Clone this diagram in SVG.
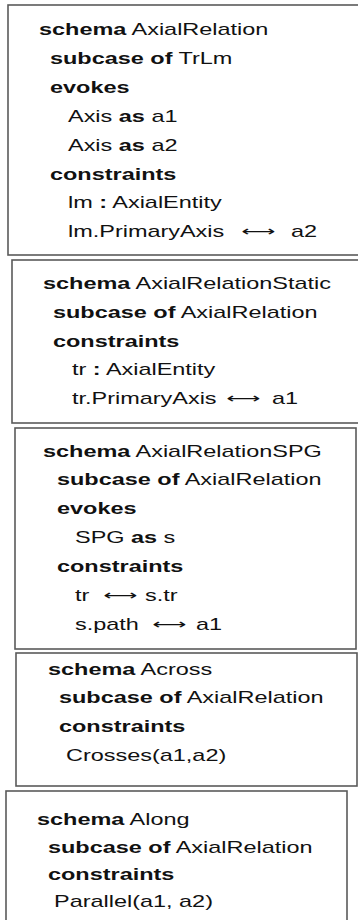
<svg xmlns="http://www.w3.org/2000/svg" width="358" height="920" viewBox="0 0 358 920">
  <style>
    .box { fill: #ffffff; stroke: #5a5a5a; stroke-width: 1.6; }
    .t { font-family: "Liberation Sans", Arial, sans-serif; font-size: 17px; fill: #111111; }
    .b { font-weight: bold; }
    .arr { font-family: "DejaVu Sans", sans-serif; font-size: 14px; fill: #111111; }
  </style>
  <rect width="358" height="920" fill="#ffffff"/>

  <!-- schema AxialRelation -->
  <g id="axial-relation">
    <rect class="box" x="8" y="5" width="355" height="250"/>
    <text class="t" transform="translate(39 35) scale(1.38 1)"><tspan class="b">schema</tspan> AxialRelation</text>
    <text class="t" transform="translate(50 64) scale(1.38 1)"><tspan class="b">subcase of</tspan> TrLm</text>
    <text class="t b" transform="translate(50 93) scale(1.38 1)">evokes</text>
    <text class="t" transform="translate(68 122) scale(1.38 1)">Axis <tspan class="b">as</tspan> a1</text>
    <text class="t" transform="translate(68 151) scale(1.38 1)">Axis <tspan class="b">as</tspan> a2</text>
    <text class="t b" transform="translate(50 180) scale(1.38 1)">constraints</text>
    <text class="t" transform="translate(68 208) scale(1.38 1)">lm <tspan class="b">:</tspan> AxialEntity</text>
    <text class="t" transform="translate(68 237) scale(1.38 1)">lm.PrimaryAxis</text>
    <text class="arr" x="241" y="236" textLength="34" lengthAdjust="spacingAndGlyphs">⟷</text>
    <text class="t" transform="translate(291 237) scale(1.38 1)">a2</text>
  </g>

  <!-- schema AxialRelationStatic -->
  <g id="axial-relation-static">
    <rect class="box" x="12" y="260" width="351" height="163"/>
    <text class="t" transform="translate(43 289) scale(1.38 1)"><tspan class="b">schema</tspan> AxialRelationStatic</text>
    <text class="t" transform="translate(53 318) scale(1.38 1)"><tspan class="b">subcase of</tspan> AxialRelation</text>
    <text class="t b" transform="translate(53 347) scale(1.38 1)">constraints</text>
    <text class="t" transform="translate(72 375) scale(1.38 1)">tr <tspan class="b">:</tspan> AxialEntity</text>
    <text class="t" transform="translate(72 404) scale(1.38 1)">tr.PrimaryAxis</text>
    <text class="arr" x="226" y="403" textLength="34" lengthAdjust="spacingAndGlyphs">⟷</text>
    <text class="t" transform="translate(272 404) scale(1.38 1)">a1</text>
  </g>

  <!-- schema AxialRelationSPG -->
  <g id="axial-relation-spg">
    <rect class="box" x="15" y="428" width="341" height="221"/>
    <text class="t" transform="translate(43 457) scale(1.38 1)"><tspan class="b">schema</tspan> AxialRelationSPG</text>
    <text class="t" transform="translate(57 485) scale(1.38 1)"><tspan class="b">subcase of</tspan> AxialRelation</text>
    <text class="t b" transform="translate(57 514) scale(1.38 1)">evokes</text>
    <text class="t" transform="translate(75 543) scale(1.38 1)">SPG <tspan class="b">as</tspan> s</text>
    <text class="t b" transform="translate(57 572) scale(1.38 1)">constraints</text>
    <text class="t" transform="translate(75 601) scale(1.38 1)">tr</text>
    <text class="arr" x="103" y="600" textLength="34" lengthAdjust="spacingAndGlyphs">⟷</text>
    <text class="t" transform="translate(145 601) scale(1.38 1)">s.tr</text>
    <text class="t" transform="translate(75 630) scale(1.38 1)">s.path</text>
    <text class="arr" x="152" y="629" textLength="34" lengthAdjust="spacingAndGlyphs">⟷</text>
    <text class="t" transform="translate(196 630) scale(1.38 1)">a1</text>
  </g>

  <!-- schema Across -->
  <g id="across">
    <rect class="box" x="16" y="653" width="341" height="133"/>
    <text class="t" transform="translate(48 675) scale(1.38 1)"><tspan class="b">schema</tspan> Across</text>
    <text class="t" transform="translate(59 703) scale(1.38 1)"><tspan class="b">subcase of</tspan> AxialRelation</text>
    <text class="t b" transform="translate(59 732) scale(1.38 1)">constraints</text>
    <text class="t" transform="translate(66 761) scale(1.38 1)">Crosses(a1,a2)</text>
  </g>

  <!-- schema Along -->
  <g id="along">
    <rect class="box" x="6" y="791" width="341" height="140"/>
    <text class="t" transform="translate(37 825) scale(1.38 1)"><tspan class="b">schema</tspan> Along</text>
    <text class="t" transform="translate(48 853) scale(1.38 1)"><tspan class="b">subcase of</tspan> AxialRelation</text>
    <text class="t b" transform="translate(48 880) scale(1.38 1)">constraints</text>
    <text class="t" transform="translate(54 907) scale(1.38 1)">Parallel(a1, a2)</text>
  </g>

  <!-- no connectors between the schema boxes -->
  <g id="connectors"/>
</svg>
